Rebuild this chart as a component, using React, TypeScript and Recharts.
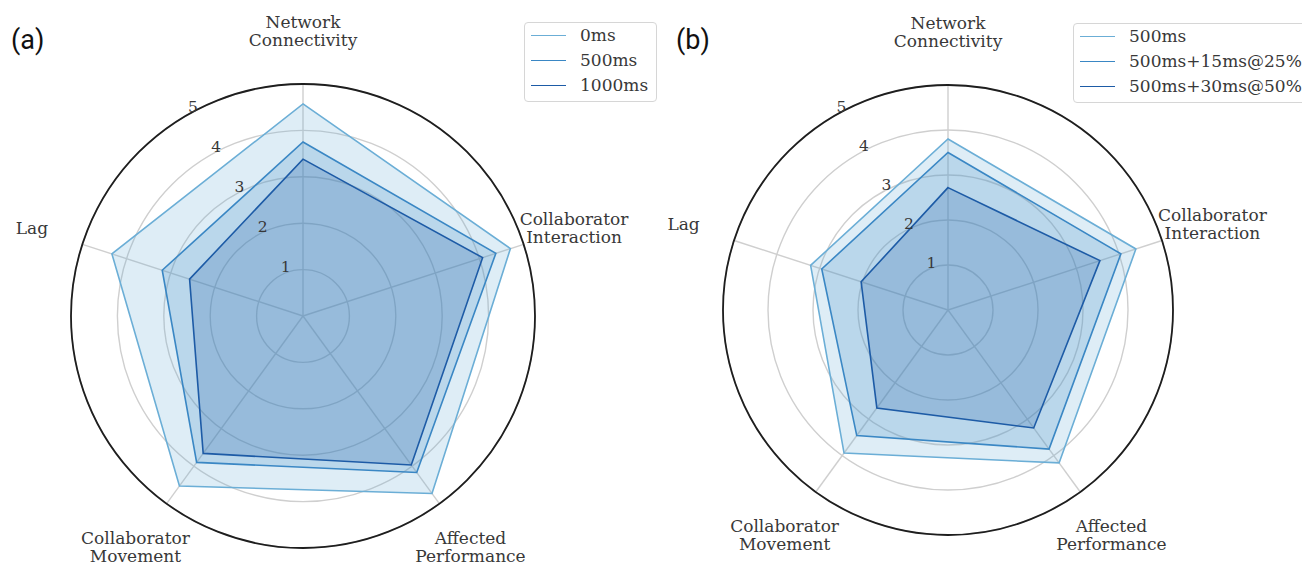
import React from 'react';
import { RadarChart, Radar, PolarGrid, PolarAngleAxis, PolarRadiusAxis, Legend } from 'recharts';

// Rating dimensions, clockwise from the top
const categories = [
  'Network Connectivity',
  'Collaborator Interaction',
  'Affected Performance',
  'Collaborator Movement',
  'Lag',
];

// Panel (a): constant delay conditions
const delay0ms = [4.57, 4.7, 4.73, 4.53, 4.33];
const delay500ms = [3.75, 4.37, 4.17, 3.9, 3.19];
const delay1000ms = [3.38, 4.07, 3.97, 3.66, 2.57];

// Panel (b): 500ms delay with added jitter
const base500ms = [3.8, 4.39, 4.2, 3.93, 3.21];
const jitter15ms = [3.5, 4.04, 3.82, 3.45, 2.95];
const jitter30ms = [2.72, 3.55, 3.24, 2.69, 2.03];

const radiusTicks = [1, 2, 3, 4, 5];
const namesA = ['0ms', '500ms', '1000ms'];
const namesB = ['500ms', '500ms+15ms@25%', '500ms+30ms@50%'];

const palette = ['#6baed6', '#3a87c4', '#1d5ba6'];
const SERIF = '"DejaVu Serif", serif';
const KEYS = ['s0', 's1', 's2'];

const buildRows = (series: number[][]) =>
  categories.map((metric, i) => ({
    metric,
    s0: series[0][i],
    s1: series[1][i],
    s2: series[2][i],
  }));

const rowsA = buildRows([delay0ms, delay500ms, delay1000ms]);
const rowsB = buildRows([base500ms, jitter15ms, jitter30ms]);

const AngleTick = (props: any) => {
  const { x, y, payload } = props;
  const words = String(payload.value).split(' ');
  const lh = 18.3;
  const fs = 17;
  const top = y - ((words.length - 1) * lh) / 2;
  return (
    <text x={x} y={top} textAnchor="middle" fontFamily={SERIF} fontSize={fs} fill="#383838">
      {words.map((w, i) => (
        <tspan key={i} x={x} y={top + i * lh + fs * 0.36}>
          {w}
        </tspan>
      ))}
    </text>
  );
};

const RadiusTick = (props: any) => {
  const { x, y, payload } = props;
  return (
    <text x={x + 6} y={y - 9 + 5.5} textAnchor="middle" fontFamily={SERIF} fontSize={15.5} fill="#383838">
      {payload.value}
    </text>
  );
};

const makeLegend = (names: string[]) => () => (
  <div
    style={{
      background: '#fff',
      border: '1px solid #d6d6d6',
      borderRadius: 4,
      padding: '0 8px 3px 6px',
      whiteSpace: 'nowrap',
    }}
  >
    {names.map((n, i) => (
      <div key={n} style={{ display: 'flex', alignItems: 'center', height: 25 }}>
        <span style={{ display: 'inline-block', width: 35, height: 1.7, background: palette[i], marginRight: 14 }} />
        <span style={{ fontFamily: SERIF, fontSize: 17, color: '#383838', lineHeight: '25px' }}>{n}</span>
      </div>
    ))}
  </div>
);

type PanelProps = {
  rows: any[];
  names: string[];
  left: number;
  width: number;
  cx: number;
  cy: number;
  radius: number;
  legendLeft: number;
  legendTop: number;
  tag: string;
  tagLeft: number;
};

const Panel = ({ rows, names, left, width, cx, cy, radius, legendLeft, legendTop, tag, tagLeft }: PanelProps) => (
  <div style={{ position: 'absolute', left, top: 0, width, height: 562 }}>
    <RadarChart
      width={width}
      height={562}
      data={rows}
      cx={cx}
      cy={cy}
      outerRadius={radius}
      startAngle={90}
      endAngle={-270}
      margin={{ top: 0, right: 0, bottom: 0, left: 0 }}
    >
      <PolarGrid gridType="circle" stroke="#cfcfcf" strokeWidth={1.4} />
      <PolarGrid gridType="circle" polarRadius={[radius]} radialLines={false} stroke="#1e1e1e" strokeWidth={1.8} />
      <PolarAngleAxis dataKey="metric" tick={AngleTick} tickLine={false} axisLine={false} tickSize={53} />
      <PolarRadiusAxis
        angle={120}
        type="number"
        domain={[0, 5]}
        ticks={radiusTicks}
        tick={RadiusTick}
        axisLine={false}
        tickLine={false}
      />
      {KEYS.map((k, i) => (
        <Radar
          key={k}
          name={names[i]}
          dataKey={k}
          stroke={palette[i]}
          strokeWidth={1.6}
          fill={palette[i]}
          fillOpacity={0.22}
          isAnimationActive={false}
        />
      ))}
      <Legend
        layout="vertical"
        align="right"
        verticalAlign="top"
        content={makeLegend(names)}
        wrapperStyle={{ position: 'absolute', left: legendLeft, top: legendTop, width: 'auto' }}
      />
    </RadarChart>
    <div
      style={{
        position: 'absolute',
        left: tagLeft,
        top: 24,
        fontFamily: 'Roboto, sans-serif',
        fontSize: 27,
        lineHeight: '32px',
        color: '#111',
      }}
    >
      {tag}
    </div>
  </div>
);

export default function App() {
  return (
    <div style={{ position: 'absolute', left: 0, top: 0, width: 1302, height: 562, overflow: 'hidden', background: '#fff' }}>
      <Panel rows={rowsA} names={namesA} left={0} width={650} cx={303} cy={316} radius={232} legendLeft={524} legendTop={22} tag="(a)" tagLeft={11} />
      <Panel rows={rowsB} names={namesB} left={650} width={652} cx={298} cy={310} radius={225} legendLeft={423} legendTop={23} tag="(b)" tagLeft={26} />
    </div>
  );
}
